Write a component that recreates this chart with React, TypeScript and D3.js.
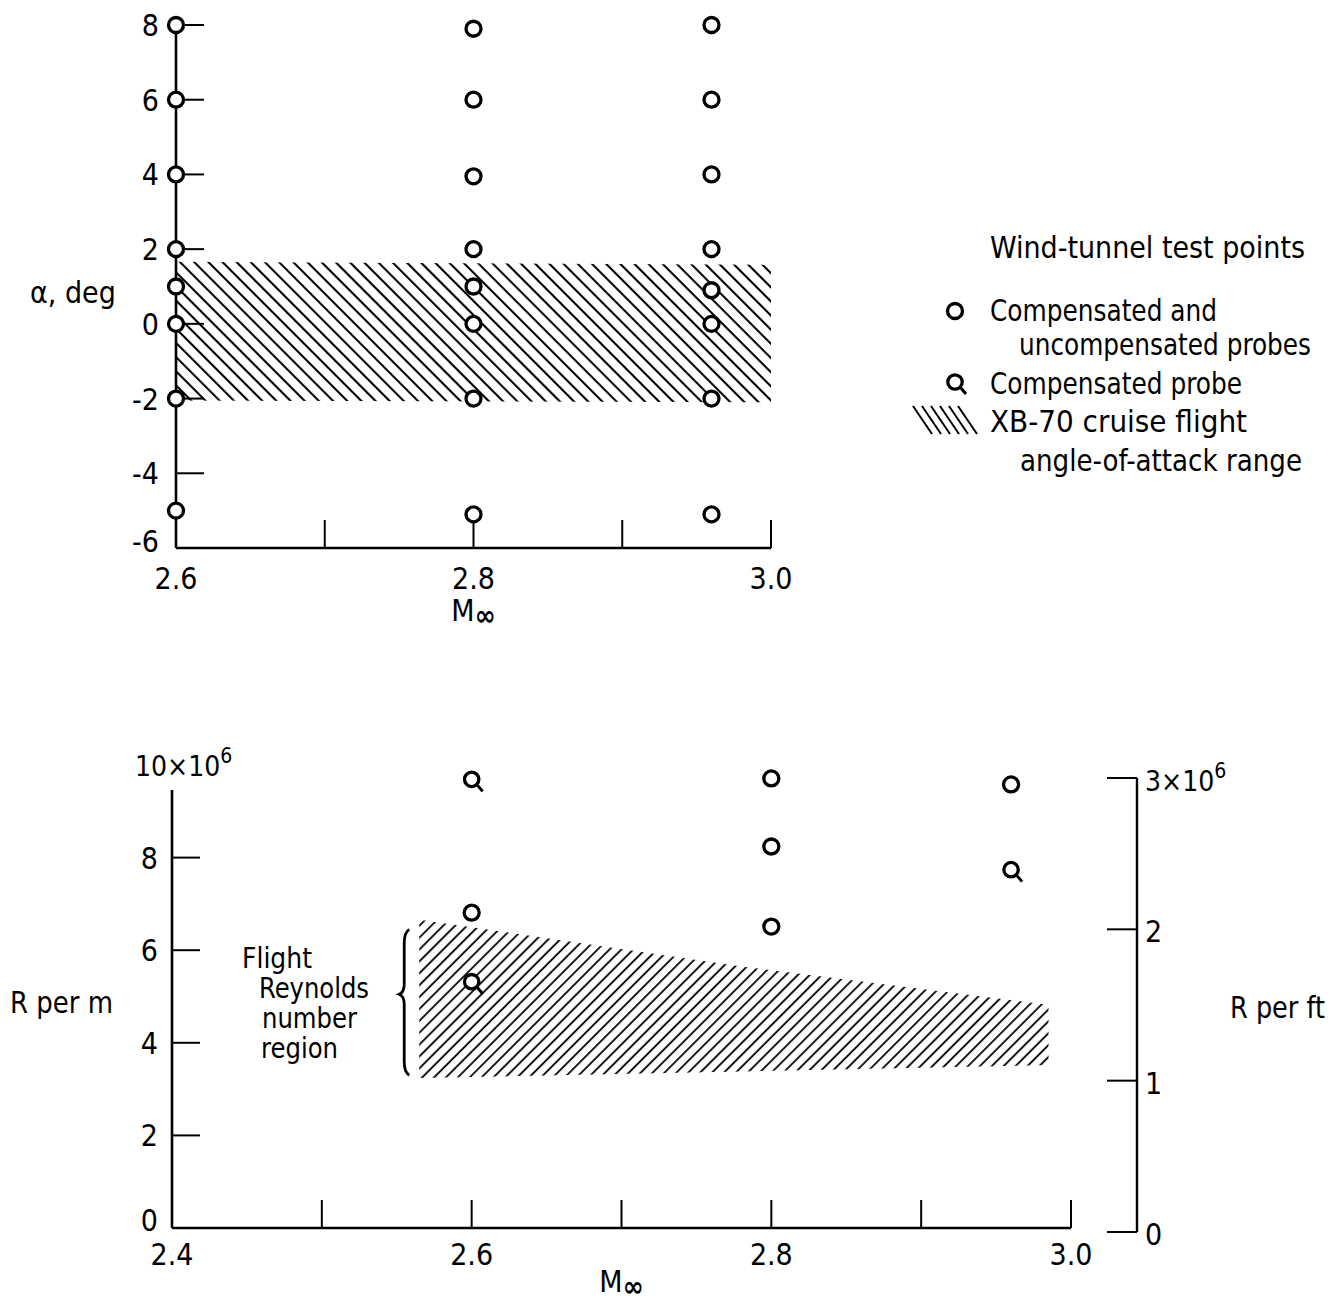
import React from 'react';
import * as d3 from 'd3';

const W = 1331;
const H = 1304;
const FONT = "'DejaVu Sans Condensed', 'Liberation Sans Narrow', 'DejaVu Sans', sans-serif";
const FS = 30;

// top panel: angle of attack test points
const alphaTicks = [-6, -4, -2, 0, 2, 4, 6, 8];
const machTopTicks = [2.6, 2.7, 2.8, 2.9, 3.0];
const machTopLabels = [2.6, 2.8, 3.0];
const testMach = [2.6, 2.8, 2.96];
const alphaAt26 = [8, 6, 4, 2, 1, 0, -2, -5];
const alphaAt28 = [7.9, 6, 3.95, 2, 1, 0, -2, -5.1];
const alphaAt296 = [8, 6, 4, 2, 0.9, 0, -2, -5.1];
const cruiseMach = [2.6, 3.0];
const cruiseAlphaUpper = [1.66, 1.58];
const cruiseAlphaLower = [-2.05, -2.1];

// bottom panel: Reynolds number
const reTicks = [0, 2, 4, 6, 8];
const reFtTicks = [0, 1, 2, 3];
const machBotTicks = [2.4, 2.5, 2.6, 2.7, 2.8, 2.9, 3.0];
const machBotLabels = [2.4, 2.6, 2.8, 3.0];
const circleMach = [2.6, 2.8, 2.8, 2.8, 2.96];
const circleRe = [6.81, 9.71, 8.24, 6.51, 9.58];
const probeMach = [2.6, 2.6, 2.96];
const probeRe = [9.69, 5.32, 7.74];
const flightMach = [2.565, 2.78, 2.985];
const flightReUpper = [6.66, 5.65, 4.82];
const flightReLower = [3.24, 3.38, 3.52];

const regionLines = ['Flight', 'Reynolds', 'number', 'region'];
const regionX = [242, 259, 262, 261];
const regionLen = [70, 110, 95, 77];

const fmt1 = d3.format('.1f');

const Circle = ({ x, y }: { x: number; y: number }) => (
  <circle cx={x} cy={y} r={7.5} fill="#fff" stroke="#000" strokeWidth={3.3} />
);

const Probe = ({ x, y }: { x: number; y: number }) => (
  <g>
    <line x1={x + 5} y1={y + 5} x2={x + 11} y2={y + 12} stroke="#000" strokeWidth={3} />
    <circle cx={x} cy={y} r={7.2} fill="#fff" stroke="#000" strokeWidth={3.3} />
  </g>
);

const Minf = ({ x, y }: { x: number; y: number }) => (
  <text x={x} y={y} textAnchor="middle" fontSize={FS}>
    M<tspan fontSize={28} fontWeight="bold" dy={4}>∞</tspan>
  </text>
);

const Label = ({ x, y, len, children }: { x: number; y: number; len: number; children: React.ReactNode }) => (
  <text x={x} y={y} fontSize={FS} textLength={len} lengthAdjust="spacingAndGlyphs">{children}</text>
);

const App = () => {
  const xTop = d3.scaleLinear().domain([2.6, 3.0]).range([176, 771]);
  const yTop = d3.scaleLinear().domain([-6, 8]).range([548, 25]);

  const xBot = d3.scaleLinear().domain([2.4, 3.0]).range([172, 1071]);
  const yBot = d3.scaleLinear().domain([0, 10]).range([1228, 765]);
  const yFt = d3.scaleLinear().domain([0, 3]).range([1232, 778]);

  const topPoints = [alphaAt26, alphaAt28, alphaAt296].flatMap((arr, i) =>
    arr.map(a => ({ m: testMach[i], a }))
  );

  const cruiseArea = d3.area<number>()
    .x((_, i) => xTop(cruiseMach[i]))
    .y0((_, i) => yTop(cruiseAlphaLower[i]))
    .y1((_, i) => yTop(cruiseAlphaUpper[i]));

  const flightArea = d3.area<number>()
    .x((_, i) => xBot(flightMach[i]))
    .y0((_, i) => yBot(flightReLower[i]))
    .y1((_, i) => yBot(flightReUpper[i]));

  // brace beside the flight region
  const bx = xBot(flightMach[0]) - 15;
  const bTop = yBot(6.45);
  const bBot = yBot(3.3);
  const bMid = (bTop + bBot) / 2 - 8;
  const brace = `M ${bx + 5} ${bTop} Q ${bx} ${bTop + 3} ${bx} ${bTop + 14} L ${bx} ${bMid - 10}
    Q ${bx} ${bMid - 2} ${bx - 5} ${bMid} Q ${bx} ${bMid + 2} ${bx} ${bMid + 10}
    L ${bx} ${bBot - 14} Q ${bx} ${bBot - 3} ${bx + 5} ${bBot}`;

  return (
    <svg width={W} height={H} style={{ position: 'absolute', left: 0, top: 0, background: '#fff' }}
      fontFamily={FONT} fill="#000">
      <defs>
        <pattern id="hatchBack" width={10} height={10} patternUnits="userSpaceOnUse" patternTransform="rotate(-45)">
          <line x1={2} y1={0} x2={2} y2={10} stroke="#000" strokeWidth={2.1} />
        </pattern>
        <pattern id="hatchFwd" width={8.4} height={8.4} patternUnits="userSpaceOnUse" patternTransform="rotate(45)">
          <line x1={2} y1={0} x2={2} y2={8.4} stroke="#000" strokeWidth={1.8} />
        </pattern>
      </defs>

      {/* ---------- top panel ---------- */}
      <path d={cruiseArea(cruiseMach) || ''} fill="url(#hatchBack)" />

      <line x1={xTop(2.6)} x2={xTop(2.6)} y1={yTop(8)} y2={yTop(-6)} stroke="#000" strokeWidth={2.6} />
      <line x1={xTop(2.6)} x2={xTop(3.0)} y1={yTop(-6)} y2={yTop(-6)} stroke="#000" strokeWidth={2.6} />
      {alphaTicks.filter(t => t > -6).map(t => (
        <line key={t} x1={xTop(2.6)} x2={xTop(2.6) + 28} y1={yTop(t)} y2={yTop(t)} stroke="#000" strokeWidth={2} />
      ))}
      {machTopTicks.filter(t => t > 2.6).map(t => (
        <line key={t} x1={xTop(t)} x2={xTop(t)} y1={yTop(-6)} y2={yTop(-6) - 28} stroke="#000" strokeWidth={2} />
      ))}
      {alphaTicks.map(t => (
        <text key={t} x={159} y={yTop(t) + (t === -6 ? 4 : 11)} textAnchor="end" fontSize={FS}>{t}</text>
      ))}
      {machTopLabels.map(t => (
        <text key={t} x={xTop(t)} y={589} textAnchor="middle" fontSize={FS}>{fmt1(t)}</text>
      ))}
      <Minf x={xTop(2.8)} y={621} />
      <text x={30} y={303} fontSize={FS}>α,  deg</text>

      {topPoints.map((p, i) => (
        <Circle key={i} x={xTop(p.m)} y={yTop(p.a)} />
      ))}

      {/* legend */}
      <Label x={990} y={258} len={315}>Wind-tunnel test points</Label>
      <Circle x={955} y={311} />
      <Label x={990} y={321} len={227}>Compensated and</Label>
      <Label x={1019} y={355} len={292}>uncompensated probes</Label>
      <Probe x={955} y={382} />
      <Label x={990} y={394} len={252}>Compensated probe</Label>
      {d3.range(6).map(i => (
        <line key={i} x1={913 + i * 9} y1={406} x2={932 + i * 9} y2={434} stroke="#000" strokeWidth={2} />
      ))}
      <Label x={990} y={432} len={257}>XB-70 cruise flight</Label>
      <Label x={1020} y={471} len={282}>angle-of-attack range</Label>

      {/* ---------- bottom panel ---------- */}
      <path d={flightArea(flightMach) || ''} fill="url(#hatchFwd)" />
      <path d={brace} fill="none" stroke="#000" strokeWidth={2.8} />
      {regionLines.map((s, i) => (
        <text key={s} x={regionX[i]} y={968 + i * 30} fontSize={28}
          textLength={regionLen[i]} lengthAdjust="spacingAndGlyphs">{s}</text>
      ))}

      <line x1={xBot(2.4)} x2={xBot(2.4)} y1={790} y2={yBot(0)} stroke="#000" strokeWidth={2.6} />
      <line x1={xBot(2.4)} x2={xBot(3.0)} y1={yBot(0)} y2={yBot(0)} stroke="#000" strokeWidth={2.6} />
      {reTicks.filter(t => t > 0).map(t => (
        <line key={t} x1={xBot(2.4)} x2={xBot(2.4) + 28} y1={yBot(t)} y2={yBot(t)} stroke="#000" strokeWidth={2} />
      ))}
      {machBotTicks.filter(t => t > 2.4).map(t => (
        <line key={t} x1={xBot(t)} x2={xBot(t)} y1={yBot(0)} y2={yBot(0) - 28} stroke="#000" strokeWidth={2} />
      ))}
      {reTicks.map(t => (
        <text key={t} x={158} y={yBot(t) + (t === 0 ? 3 : 11)} textAnchor="end" fontSize={FS}>{t}</text>
      ))}
      <text x={135} y={776} fontSize={28}>10×10<tspan fontSize={21} dy={-13}>6</tspan></text>
      {machBotLabels.map(t => (
        <text key={t} x={xBot(t)} y={1265} textAnchor="middle" fontSize={FS}>{fmt1(t)}</text>
      ))}
      <Minf x={xBot(2.7)} y={1292} />
      <Label x={10} y={1013} len={103}>R per m</Label>

      {/* right axis, R per ft */}
      <line x1={1137} x2={1137} y1={yFt(3)} y2={yFt(0)} stroke="#000" strokeWidth={2.4} />
      {reFtTicks.map(t => (
        <line key={t} x1={1107} x2={1137} y1={yFt(t)} y2={yFt(t)} stroke="#000" strokeWidth={2} />
      ))}
      {reFtTicks.map(t => (
        <text key={t} x={1145} y={yFt(t) + 13} fontSize={t === 3 ? 28 : FS}>{t === 3 ? '3×10' : t}
          {t === 3 && <tspan fontSize={21} dy={-13}>6</tspan>}
        </text>
      ))}
      <Label x={1230} y={1018} len={95}>R per ft</Label>

      {circleMach.map((m, i) => (
        <Circle key={i} x={xBot(m)} y={yBot(circleRe[i])} />
      ))}
      {probeMach.map((m, i) => (
        <Probe key={i} x={xBot(m)} y={yBot(probeRe[i])} />
      ))}
    </svg>
  );
};

export default App;
